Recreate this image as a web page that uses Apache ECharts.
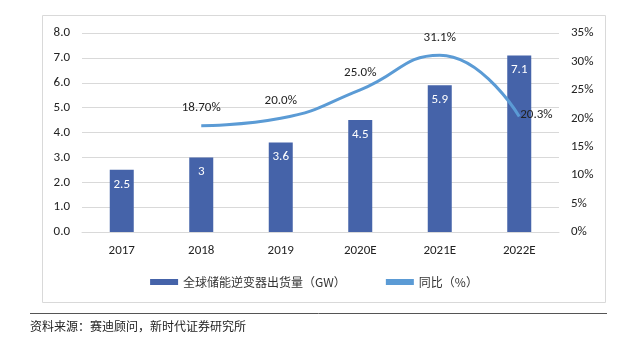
<!DOCTYPE html>
<html><head><meta charset="utf-8">
<script src="https://cdn.jsdelivr.net/npm/echarts@6/dist/echarts.min.js"></script>
<style>html,body{margin:0;padding:0;background:#fff}#c{width:628px;height:345px}</style>
</head><body><div id="c"></div>
<script>
const categories = ['2017','2018','2019','2020E','2021E','2022E'];
const shipments = [2.5, 3, 3.6, 4.5, 5.9, 7.1];
const yoy = [null, 18.7, 20.0, 25.0, 31.1, 20.3];
const yoyLabels = ['', '18.70%', '20.0%', '25.0%', '31.1%', '20.3%'];
const barName = '全球储能逆变器出货量（GW）';
const lineName = '同比（%）';
const sourceText = '资料来源：赛迪顾问，新时代证券研究所';

const font = 'Carlito, Calibri, "Liberation Sans", "Noto Sans CJK SC", sans-serif';
const lineData = yoy.map((v, i) => ({
  value: v,
  label: i === yoy.length - 1
    ? { show: true, position: 'right', offset: [-10, -2], formatter: yoyLabels[i] }
    : { show: true, position: 'top', formatter: yoyLabels[i] }
}));

const chart = echarts.init(document.getElementById('c'));
chart.setOption({
  animation: false,
  textStyle: { fontFamily: font },
  graphic: [
    { type: 'rect', shape: { x: 42.5, y: 15.5, width: 563, height: 287 }, style: { fill: 'none', stroke: '#d9d9d9', lineWidth: 1 } },
    { type: 'line', shape: { x1: 30, y1: 313.5, x2: 607, y2: 313.5 }, style: { stroke: '#555', lineWidth: 1 } },
    { type: 'text', left: 30, top: 320, style: { text: sourceText, fill: '#222', font: '12px "Noto Sans CJK SC", serif' } }
  ],
  legend: {
    bottom: 52, left: 'center', itemGap: 40, itemWidth: 28, itemHeight: 6,
    textStyle: { fontSize: 12, color: '#333', fontFamily: '"Noto Sans CJK SC", sans-serif' },
    data: [
      { name: barName, icon: 'rect', itemStyle: { color: '#4563a9' } },
      { name: lineName, icon: 'rect', itemStyle: { color: '#5b9bd5' } }
    ]
  },
  grid: { left: 82, right: 69, top: 33, bottom: 113 },
  xAxis: {
    type: 'category', data: categories,
    axisLine: { lineStyle: { color: '#d9d9d9' } }, axisTick: { show: false },
    axisLabel: { color: '#222', fontSize: 13, margin: 12 }
  },
  yAxis: [
    { type: 'value', min: 0, max: 8, interval: 1,
      axisLabel: { color: '#222', fontSize: 13, formatter: v => v.toFixed(1), margin: 12 },
      splitLine: { lineStyle: { color: '#d9d9d9' } }, axisLine: { show: false }, axisTick: { show: false } },
    { type: 'value', min: 0, max: 35, interval: 5,
      axisLabel: { color: '#222', fontSize: 13, formatter: '{value}%', margin: 12 },
      splitLine: { show: false }, axisLine: { show: false }, axisTick: { show: false } }
  ],
  series: [
    { name: barName, type: 'bar', data: shipments, barWidth: 24,
      itemStyle: { color: '#4563a9' },
      label: { show: true, position: 'insideTop', color: '#fff', fontSize: 13, distance: 8 } },
    { name: lineName, type: 'line', yAxisIndex: 1, smooth: 0.5, data: lineData, connectNulls: false,
      symbol: 'circle', symbolSize: 0.01, showSymbol: true,
      lineStyle: { color: '#5b9bd5', width: 3 }, itemStyle: { color: '#5b9bd5' },
      label: { show: true, position: 'top', distance: 11, color: '#222', fontSize: 13 } }
  ]
});
</script></body></html>
